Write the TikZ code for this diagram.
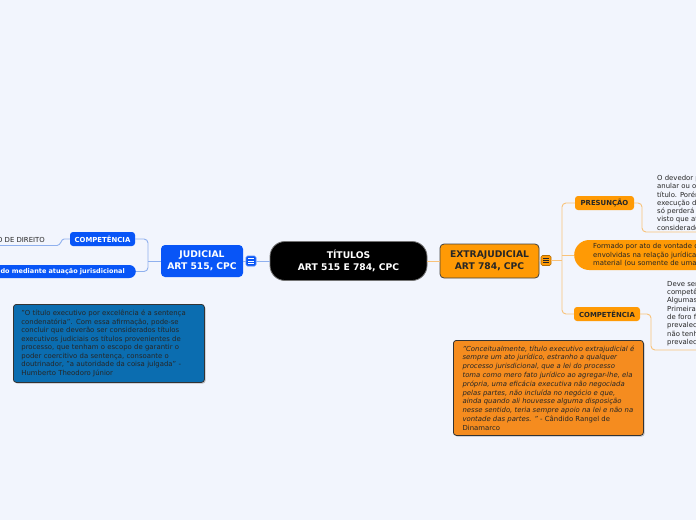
\documentclass[tikz,border=0pt]{standalone}
\usepackage{fontspec}
\setmainfont{DejaVu Sans}
\usetikzlibrary{shadows,calc}
\definecolor{bg}{HTML}{F2F5FD}
\definecolor{jblue}{HTML}{0855F7}
\definecolor{lblue}{HTML}{8FB0EE}
\definecolor{qblue}{HTML}{0B6DB0}
\definecolor{ornode}{HTML}{FF9A05}
\definecolor{lorange}{HTML}{F8C27A}
\definecolor{oquote}{HTML}{F58C1F}
\definecolor{txt}{HTML}{262626}
\tikzset{
  mainfont/.style={font=\fontsize{9.2}{12}\selectfont\bfseries},
  cenbox/.style={fill=black, draw=black!55, line width=0.8, rounded corners=15, minimum width=157, minimum height=39, text=white, align=center, inner sep=0, mainfont},
  judbox/.style={fill=jblue, rounded corners=4, minimum width=82, minimum height=32, text=white, align=center, inner sep=0, mainfont},
  extbox/.style={fill=ornode, draw=black!75, line width=0.8, rounded corners=4, minimum width=99, minimum height=34, text=txt, align=center, inner sep=0, mainfont},
  smallb/.style={font=\fontsize{6.9}{8}\selectfont\bfseries, inner sep=0, minimum height=14, rounded corners=3},
  bsub/.style={smallb, fill=jblue, text=white, minimum width=65},
  osub/.style={smallb, fill=ornode, text=txt},
  bline/.style={draw=lblue, line width=0.9},
  oline/.style={draw=lorange, line width=0.9},
  note/.style={font=\fontsize{6.9}{8.3}\selectfont, text=txt, align=left, inner sep=0, anchor=north west},
  quotebox/.style={draw=black!80, line width=0.8, rounded corners=3, drop shadow={shadow xshift=1.2pt, shadow yshift=-1.2pt, opacity=0.45}, anchor=north west, text=txt},
  iconbox/.style={minimum size=10, inner sep=0, rounded corners=1.5, line width=0.6},
}
\begin{document}
\begin{tikzpicture}[x=1pt,y=-1pt]
\useasboundingbox (0,0) rectangle (696,520);
\fill[bg] (0,0) rectangle (696,520);
\begin{scope}
\clip (0,0) rectangle (696,520);

% central
\node[cenbox] (cen) at (348.5,261) {TÍTULOS\\ART 515 E 784, CPC};

% judicial side
\node[judbox] (jud) at (202,261) {JUDICIAL\\ART 515, CPC};
\node[iconbox, fill=jblue, draw=jblue!70!white] (icj) at (251,261) {};
\foreach \dy in {-2.3,0,2.3}
  \draw[white, line width=0.7] ($(icj.center)+(-2.6,\dy)$) -- ++(5.2,0);
\node[bsub] (bcomp) at (102.5,239) {COMPETÊNCIA};
\node[smallb, fill=jblue, text=white, anchor=east, text width=190, align=right, inner xsep=11, minimum height=13, rounded corners=6.5, font=\fontsize{6.5}{8}\selectfont\bfseries] (bform) at (136,271.5) {ado mediante atuação jurisdicional};
\node[note, anchor=east] (ltext) at (45,239.8) {O DE DIREITO};
\coordinate (lend) at (-5,245.5);
\coordinate (jb) at (148,261);

\draw[bline] (icj.east) -- (cen.west);
\draw[bline] (jud.east) -- (icj.west);
\draw[bline] (jud.west) -- (jb);
\draw[bline, rounded corners=4] (bcomp.east) -| (jb) |- (bform.east);
\draw[bline] (bcomp.west) -- (64,239) .. controls (61,239) and (61,245.5) .. (57,245.5) -- (lend);

\node[quotebox, fill=qblue, text width=175, inner xsep=8, minimum height=78, align=left, font=\fontsize{6.9}{8.5}\selectfont] (bq) at (13,304) {"O título executivo por excelência é a sentença\\
condenatória". Com essa afirmação, pode-se\\
concluir que deverão ser considerados títulos\\
executivos judiciais os títulos provenientes de\\
processo, que tenham o escopo de garantir o\\
poder coercitivo da sentença, consoante o\\
doutrinador, "a autoridade da coisa julgada" -\\
Humberto Theodoro Júnior};

% extrajudicial side
\node[extbox] (ext) at (489.5,261) {EXTRAJUDICIAL\\ART 784, CPC};
\node[iconbox, fill=ornode, draw=ornode!70!black] (ico) at (546,260.5) {};
\foreach \dy in {-2.3,0,2.3}
  \draw[txt, line width=0.7] ($(ico.center)+(-2.6,\dy)$) -- ++(5.2,0);
\node[osub, minimum width=59] (pres) at (604.5,203) {PRESUNÇÃO};
\node[osub, minimum width=66] (comp2) at (607,314) {COMPETÊNCIA};
\node[fill=ornode, rounded corners=15, minimum height=30, anchor=west, text width=130, inner xsep=19, inner ysep=0, align=left, text=txt, font=\fontsize{6.9}{8.5}\selectfont] (form) at (574,255) {Formado por ato de vontade da\\envolvidas na relação jurídica d\\material (ou somente de uma d};

\node[note] (ptext) at (657,175) {O devedor p\\anular ou o\\título. Porém\\execução do\\só perderá s\\visto que at\\considerado};
\node[note] (ctext) at (667,281) {Deve ser\\competê\\Algumas\\Primeira\\de foro f\\prevalec\\não tenh\\prevalec};

\coordinate (ob) at (562,260.5);
\coordinate (ob2) at (562,255);
\coordinate (pend) at (700,232);
\coordinate (cend) at (700,350);

\draw[oline] (cen.east) -- (ext.west);
\draw[oline] (ext.east) -- (ico.west);
\draw[oline] (ico.east) -- (ob);
\draw[oline, rounded corners=4] (pres.west) -| (ob) |- (comp2.west);
\draw[oline] (ob2) -- (form.west);
\draw[oline, rounded corners=4] (pres.east) -| (642,232) -- (pend);
\draw[oline, rounded corners=4] (comp2.east) -| (651,350) -- (cend);

\node[quotebox, fill=oquote, minimum width=190, minimum height=95, align=left, inner sep=0, font=\fontsize{6.9}{8.8}\selectfont\itshape] (oq) at (453,340) {"Conceitualmente, título executivo extrajudicial é\\
sempre um ato jurídico, estranho a qualquer\\
processo jurisdicional, que a lei do processo\\
toma como mero fato jurídico ao agregar-lhe, ela\\
própria, uma eficácia executiva não negociada\\
pelas partes, não incluída no negócio e que,\\
ainda quando ali houvesse alguma disposição\\
nesse sentido, teria sempre apoio na lei e não na\\
vontade das partes. " {\upshape - Cândido Rangel de}\\
{\upshape Dinamarco}};
\end{scope}
\end{tikzpicture}
\end{document}
